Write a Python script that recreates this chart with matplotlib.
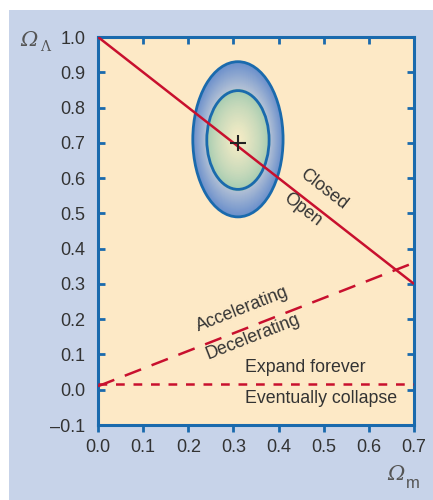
import numpy as np
import matplotlib
matplotlib.use("Agg")
import matplotlib.pyplot as plt
from matplotlib.patches import Ellipse, Rectangle
from matplotlib.colors import to_rgb

plt.rcParams['font.family'] = ['Liberation Sans', 'DejaVu Sans']

# data
flat_x = [0.0, 0.7]
flat_y = [1.0, 0.3]            # closed / open boundary
accel_x = [0.0, 0.7]
accel_y = [0.01, 0.36]         # accelerating / decelerating boundary
collapse_x = [0.0, 0.7]
collapse_y = [0.015, 0.015]    # expand forever / eventually collapse
best_fit = (0.31, 0.70)
outer_ell = (0.31, 0.71, 0.20, 0.44)   # cx, cy, width, height
inner_ell = (0.31, 0.708, 0.138, 0.28)
xticks = [0.0, 0.1, 0.2, 0.3, 0.4, 0.5, 0.6, 0.7]
yticks = [-0.1, 0.0, 0.1, 0.2, 0.3, 0.4, 0.5, 0.6, 0.7, 0.8, 0.9, 1.0]

red = '#c8102e'
spine_blue = '#1a6aad'
txt = '#333333'
lab = '#555555'

fig = plt.figure(figsize=(4.33, 5.0), dpi=100, facecolor='white')
fig.patches.append(Rectangle((9/433, 0), 1, 490/500, transform=fig.transFigure,
                             facecolor='#c7d3e9', edgecolor='none', zorder=-10))
ax = fig.add_axes([98/433, 75/500, 316/433, 388/500])
ax.set_facecolor('#fde9c6')

# gradient ellipses: outer ring blue -> grey, inner green -> pale yellow
def blend(c1, c2, t):
    a, b = np.array(to_rgb(c1)), np.array(to_rgb(c2))
    return tuple(a + (b - a) * t)

n = 30
cx, cy, w, h = outer_ell
iw, ih = inner_ell[2], inner_ell[3]
for i in range(n):
    t = i / (n - 1)
    ww = w + (iw - w) * t
    hh = h + (ih - h) * t
    ax.add_patch(Ellipse((cx, cy), ww, hh, facecolor=blend('#6a8fcb', '#b9c5d6', t),
                         edgecolor='none', zorder=2))
for i in range(n):
    t = i / (n - 1)
    ww = iw * (1 - t) + 0.005
    hh = ih * (1 - t) + 0.01
    ax.add_patch(Ellipse((inner_ell[0], inner_ell[1]), ww, hh,
                         facecolor=blend('#9dc8b0', '#f7edc6', t ** 0.7),
                         edgecolor='none', zorder=3))
ax.add_patch(Ellipse(outer_ell[:2], outer_ell[2], outer_ell[3], facecolor='none',
                     edgecolor=spine_blue, lw=2, zorder=4))
ax.add_patch(Ellipse(inner_ell[:2], inner_ell[2], inner_ell[3], facecolor='none',
                     edgecolor=spine_blue, lw=2, zorder=4))

ax.plot(flat_x, flat_y, color=red, lw=1.8, zorder=5, solid_capstyle='butt')
ax.plot(accel_x, accel_y, color=red, lw=1.8, dashes=(7, 4.5), zorder=5)
ax.plot(collapse_x, collapse_y, color=red, lw=1.8, dashes=(3.5, 3.5), zorder=5)
ax.plot(*best_fit, marker='+', color='#222222', ms=11, mew=1.5, zorder=6)

ax.set_xlim(0, 0.7)
ax.set_ylim(-0.1, 1.0)
ax.set_xticks(xticks)
ax.set_yticks(yticks)
ax.set_xticklabels(['%.1f' % v for v in xticks])
ax.set_yticklabels(['\u2013%.1f' % abs(v) if v < 0 else '%.1f' % v for v in yticks])
for s in ax.spines.values():
    s.set_color(spine_blue)
    s.set_linewidth(2.2)
ax.tick_params(axis='x', direction='out', length=5, width=2, color=spine_blue,
               labelsize=13, labelcolor=txt, pad=5, top=False)
ax.tick_params(axis='y', direction='in', length=5, width=2, color=spine_blue,
               labelsize=13, labelcolor=txt, pad=9, right=True)
sec = ax.secondary_xaxis('top')
sec.set_xticks(xticks[1:-1])
sec.tick_params(direction='in', length=5, width=2, color=spine_blue, labeltop=False)
sec.spines['top'].set_visible(False)

# axis symbols: italic Omega with subscripts
fig.text(29/433, 1 - 40/500, '\u03a9', color=lab, fontsize=15, fontstyle='italic',
         family='DejaVu Serif', ha='center', va='center')
fig.text(45/433, 1 - 47/500, '\u039b', color=lab, fontsize=10,
         family='DejaVu Serif', ha='center', va='center')
fig.text(396/433, 1 - 475/500, '\u03a9', color=lab, fontsize=15, fontstyle='italic',
         family='DejaVu Serif', ha='center', va='center')
fig.text(413/433, 1 - 484/500, 'm', color=lab, fontsize=12,
         ha='center', va='center')

# region labels
ax.text(0.501, 0.569, 'Closed', rotation=-37.8, color=txt, fontsize=12.8,
        ha='center', va='center', rotation_mode='anchor', zorder=7)
ax.text(0.452, 0.510, 'Open', rotation=-37.8, color=txt, fontsize=12.8,
        ha='center', va='center', rotation_mode='anchor', zorder=7)
ax.text(0.319, 0.229, 'Accelerating', rotation=21.4, color=txt, fontsize=12.8,
        ha='center', va='center', rotation_mode='anchor', zorder=7)
ax.text(0.343, 0.149, 'Decelerating', rotation=21.4, color=txt, fontsize=12.8,
        ha='center', va='center', rotation_mode='anchor', zorder=7)
ax.text(0.459, 0.064, 'Expand forever', color=txt, fontsize=12.8,
        ha='center', va='center', zorder=7)
ax.text(0.494, -0.024, 'Eventually collapse', color=txt, fontsize=12.8,
        ha='center', va='center', zorder=7)

fig.savefig('out.png', dpi=100, facecolor=fig.get_facecolor())
